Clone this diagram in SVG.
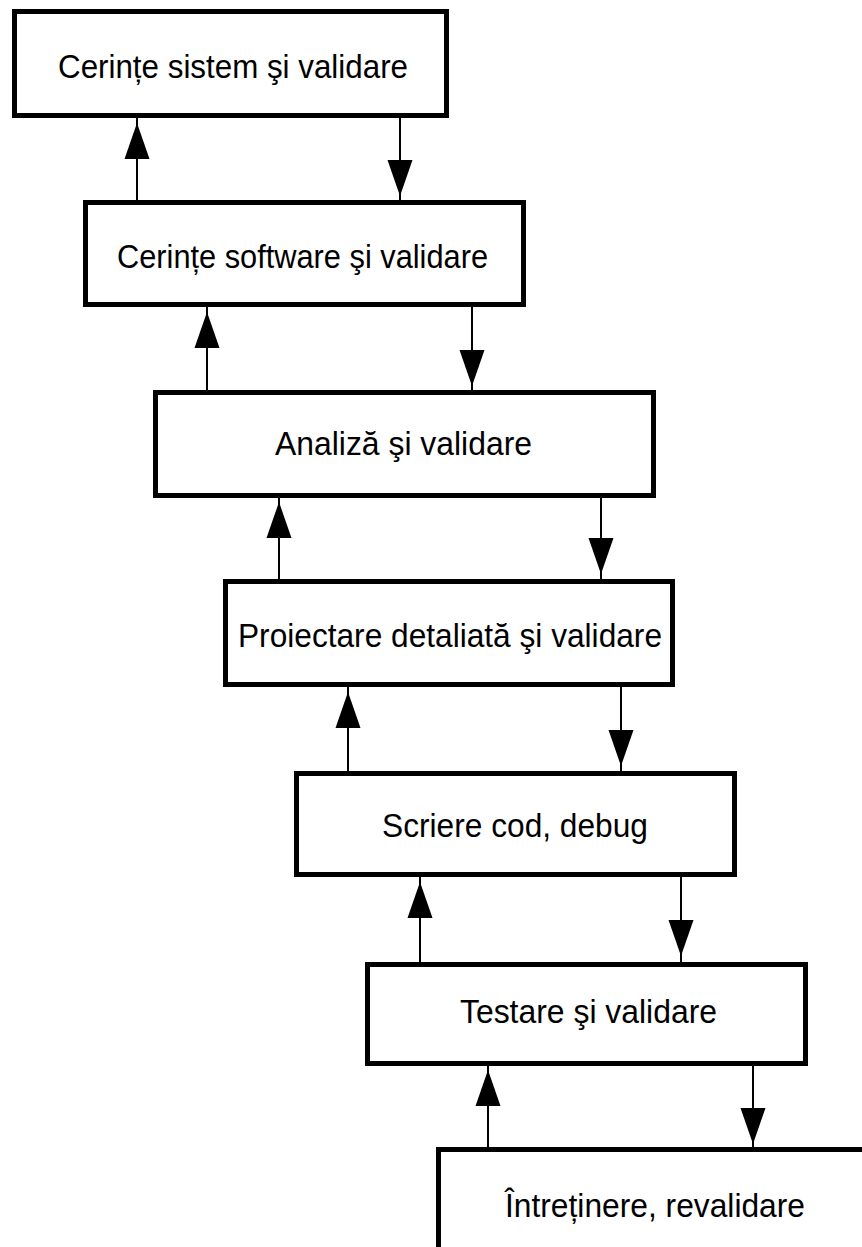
<svg xmlns="http://www.w3.org/2000/svg" xmlns:xlink="http://www.w3.org/1999/xlink" width="862" height="1247" viewBox="0 0 862 1247">
<style>
.box{fill:#fff;stroke:#000;stroke-width:5}
.lbl{font-family:"Liberation Sans",Arial,sans-serif;font-size:33px;fill:#000;text-anchor:middle}
.ln{stroke:#000;stroke-width:2;fill:none}
.hd{fill:#000}
</style>
<defs>
<path id="up" d="M0,0 L12.5,36 L-12.5,36 Z"/>
<path id="down" d="M0,0 L12.5,-36 L-12.5,-36 Z"/>
</defs>
<rect width="862" height="1247" fill="#fff"/>
<g id="connectors">
<line class="ln" x1="137" y1="118" x2="137" y2="200"/>
<line class="ln" x1="400" y1="118" x2="400" y2="200"/>
<line class="ln" x1="207" y1="307" x2="207" y2="390"/>
<line class="ln" x1="472" y1="307" x2="472" y2="390"/>
<line class="ln" x1="279" y1="498" x2="279" y2="579"/>
<line class="ln" x1="601" y1="498" x2="601" y2="579"/>
<line class="ln" x1="348" y1="687" x2="348" y2="771"/>
<line class="ln" x1="621" y1="687" x2="621" y2="771"/>
<line class="ln" x1="420" y1="877" x2="420" y2="962"/>
<line class="ln" x1="681" y1="877" x2="681" y2="962"/>
<line class="ln" x1="488" y1="1066" x2="488" y2="1147"/>
<line class="ln" x1="753" y1="1066" x2="753" y2="1147"/>
<use class="hd" xlink:href="#up" x="137" y="123"/>
<use class="hd" xlink:href="#down" x="400" y="196"/>
<use class="hd" xlink:href="#up" x="207" y="312"/>
<use class="hd" xlink:href="#down" x="472" y="386"/>
<use class="hd" xlink:href="#up" x="279" y="502"/>
<use class="hd" xlink:href="#down" x="601" y="574"/>
<use class="hd" xlink:href="#up" x="348" y="692"/>
<use class="hd" xlink:href="#down" x="621" y="766"/>
<use class="hd" xlink:href="#up" x="420" y="882"/>
<use class="hd" xlink:href="#down" x="681" y="956"/>
<use class="hd" xlink:href="#up" x="488" y="1070"/>
<use class="hd" xlink:href="#down" x="753" y="1144"/>
</g>
<g id="n1">
<rect class="box" x="14.5" y="11.5" width="432" height="104"/>
<text class="lbl" x="233" y="78" textLength="350" lengthAdjust="spacingAndGlyphs">Cerințe sistem şi validare</text>
</g>
<g id="n2">
<rect class="box" x="85.5" y="202.5" width="438" height="102"/>
<text class="lbl" x="302.5" y="268" textLength="371" lengthAdjust="spacingAndGlyphs">Cerințe software şi validare</text>
</g>
<g id="n3">
<rect class="box" x="155.5" y="392.5" width="498" height="103"/>
<text class="lbl" x="403.5" y="455" textLength="257" lengthAdjust="spacingAndGlyphs">Analiză şi validare</text>
</g>
<g id="n4">
<rect class="box" x="225.5" y="581.5" width="447" height="103"/>
<text class="lbl" x="450" y="647" textLength="424" lengthAdjust="spacingAndGlyphs">Proiectare detaliată şi validare</text>
</g>
<g id="n5">
<rect class="box" x="296.5" y="773.5" width="438" height="101"/>
<text class="lbl" x="515" y="837" textLength="266" lengthAdjust="spacingAndGlyphs">Scriere cod, debug</text>
</g>
<g id="n6">
<rect class="box" x="367.5" y="964.5" width="438" height="99"/>
<text class="lbl" x="588.5" y="1023" textLength="257" lengthAdjust="spacingAndGlyphs">Testare şi validare</text>
</g>
<g id="n7">
<rect class="box" x="438.5" y="1149.5" width="440" height="120"/>
<text class="lbl" x="655" y="1217" textLength="300" lengthAdjust="spacingAndGlyphs">Întreținere, revalidare</text>
</g>
</svg>
